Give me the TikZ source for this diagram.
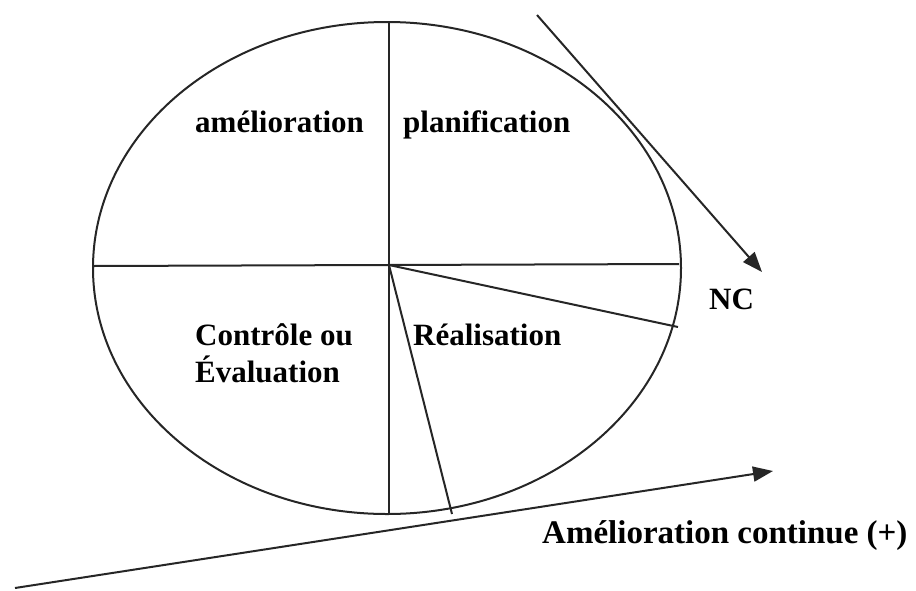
\documentclass[tikz,border=0pt]{standalone}
\usepackage{fontspec}
\setmainfont{Liberation Serif}
\usetikzlibrary{arrows.meta,shapes.geometric}
\begin{document}
\begin{tikzpicture}[x=1pt,y=-1pt,
  stroke/.style={draw=black!85,line width=2pt},
  label/.style={inner sep=0pt,anchor=base west,font=\fontsize{31}{36}\selectfont\bfseries},
  arrowline/.style={stroke,-{Triangle[length=20pt,width=15pt]}}]
\useasboundingbox (0,0) rectangle (916,590);
% the cycle
\node[stroke,ellipse,minimum width=588pt,minimum height=492pt,inner sep=0pt] (cycle) at (387,268) {};
\coordinate (c) at (389,265);
\coordinate (top) at (389,22);
\coordinate (bot) at (389,514);
\coordinate (left) at (93,266);
\coordinate (right) at (679,264);
\coordinate (nc) at (678,327);
\coordinate (low) at (452,514);
\draw[stroke] (top) -- (bot);
\draw[stroke] (left) -- (right);
\draw[stroke] (c) -- (nc);
\draw[stroke] (c) -- (low);
% quadrant labels
\node[label] (amel) at (195,132) {amélioration};
\node[label] (plan) at (403,132) {planification};
\node[label] (ctrl) at (195,345) {Contrôle ou};
\node[label] (eval) at (195,382) {Évaluation};
\node[label] (real) at (413,345) {Réalisation};
% non-conformity drift
\coordinate (ncs) at (537,15);
\coordinate (nce) at (762,272);
\draw[arrowline] (ncs) -- (nce);
\node[label] (nclab) at (709,309) {NC};
% continuous improvement
\coordinate (ais) at (15,588);
\coordinate (aie) at (773,471);
\draw[arrowline] (ais) -- (aie);
\node[label,font=\fontsize{33}{38}\selectfont\bfseries] (ailab) at (542,543) {Amélioration continue (+)};
\end{tikzpicture}
\end{document}
